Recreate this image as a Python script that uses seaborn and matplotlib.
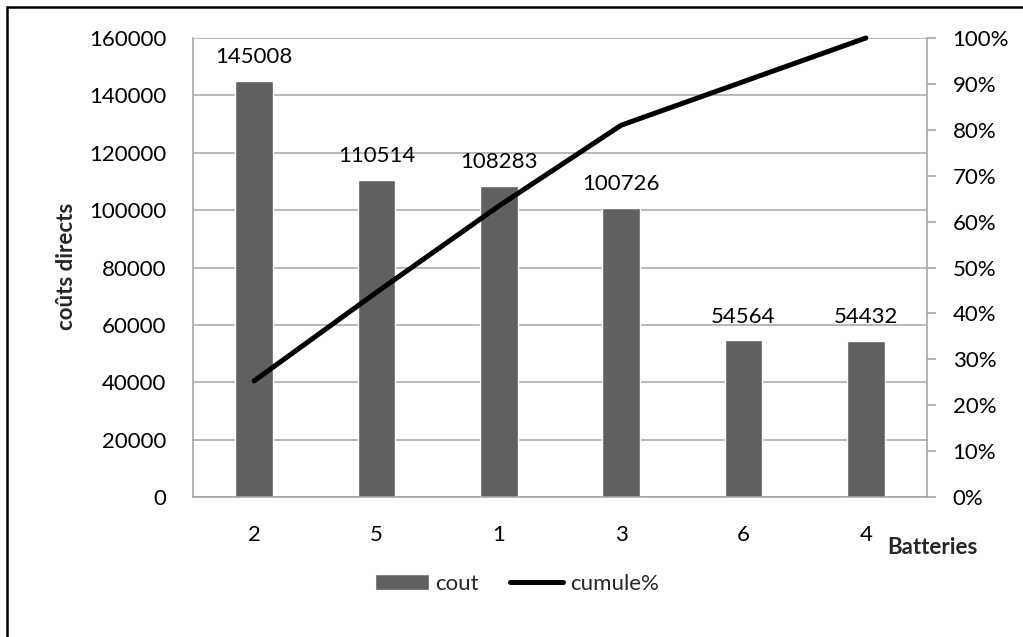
import matplotlib
matplotlib.use("Agg")
import matplotlib.pyplot as plt
from matplotlib.patches import Rectangle
from matplotlib.ticker import PercentFormatter, MultipleLocator
import seaborn as sns
import pandas as pd

# Pareto data: direct costs per battery, sorted descending, with cumulative share
batteries = ["2", "5", "1", "3", "6", "4"]
couts = [145008, 110514, 108283, 100726, 54564, 54432]
cumule_pct = [25.3, 44.6, 63.4, 81.0, 90.5, 100.0]

df = pd.DataFrame({"batterie": batteries, "cout": couts, "cumule": cumule_pct})

sns.set_style("white")
plt.rcParams["font.family"] = ["Lato", "DejaVu Sans"]
plt.rcParams["font.size"] = 16

BAR = "#606060"
GRID = "#a6a6a6"
AXIS = "#a0a0a0"

fig = plt.figure(figsize=(10.23, 6.37), dpi=100)
ax = fig.add_axes([193 / 1023, 1 - 497 / 637, (927 - 193) / 1023, (497 - 38) / 637])

sns.barplot(data=df, x="batterie", y="cout", order=batteries, color=BAR,
            width=0.31, saturation=1, ax=ax, label="cout")
ax.bar_label(ax.containers[0], labels=[str(v) for v in couts], padding=10,
             fontsize=16, color="black")

ax.set_ylim(0, 160000)
ax.yaxis.set_major_locator(MultipleLocator(20000))
ax.set_xlim(-0.5, len(batteries) - 0.5)
ax.set_axisbelow(True)
ax.grid(axis="y", color=GRID, linewidth=1.1)
ax.grid(axis="x", visible=False)
ax.tick_params(axis="y", length=0, pad=19, labelsize=16, labelcolor="black")
ax.tick_params(axis="x", length=0, pad=20, labelsize=16, labelcolor="black")
for side in ("top", "right"):
    ax.spines[side].set_visible(False)
for side in ("left", "bottom"):
    ax.spines[side].set_color(AXIS)
    ax.spines[side].set_linewidth(1.1)

ax.set_ylabel("coûts directs", fontsize=16, fontweight="bold")
ax.yaxis.set_label_coords(-0.173, 0.503)
ax.yaxis.label.set_va("center")
ax.yaxis.label.set_ha("center")
ax.set_xlabel("Batteries", fontsize=16, fontweight="bold")
ax.xaxis.set_label_coords(1.008, -0.111)
ax.xaxis.label.set_va("center")
ax.xaxis.label.set_ha("center")

# Cumulative percentage on the secondary axis
ax2 = ax.twinx()
sns.pointplot(data=df, x="batterie", y="cumule", order=batteries, color="black",
              markers="", linewidth=3.6, ax=ax2, label="cumule%",
              solid_capstyle="round", clip_on=False)
ax2.set_ylim(0, 100)
ax2.set_xlim(-0.5, len(batteries) - 0.5)
ax2.yaxis.set_major_locator(MultipleLocator(10))
ax2.yaxis.set_major_formatter(PercentFormatter(xmax=100, decimals=0))
ax2.set_ylabel("")
ax2.set_xlabel("")
ax2.grid(False)
ax2.tick_params(axis="y", direction="out", length=6.5, width=1.1, color=AXIS,
                pad=12, labelsize=16, labelcolor="black")
for side in ("top", "left", "bottom"):
    ax2.spines[side].set_visible(False)
ax2.spines["right"].set_color(AXIS)
ax2.spines["right"].set_linewidth(1.1)

# One shared legend below the plot instead of per-axes legends
h1, l1 = ax.get_legend_handles_labels()
h2, l2 = ax2.get_legend_handles_labels()
for a in (ax, ax2):
    if a.get_legend() is not None:
        a.get_legend().remove()
fig.legend(h1 + h2, l1 + l2, loc="center", bbox_to_anchor=(517 / 1023, 1 - 584 / 637),
           ncol=2, frameon=False, fontsize=16, handlelength=2.4, handletextpad=0.3,
           columnspacing=1.4)

# Chart frame
fig.patches.append(Rectangle((7 / 1023, -0.1), 1.2, 1.1 - 7 / 637, fill=False,
                             edgecolor="black", linewidth=1.8,
                             transform=fig.transFigure, figure=fig))

fig.savefig("out.png", dpi=100)
